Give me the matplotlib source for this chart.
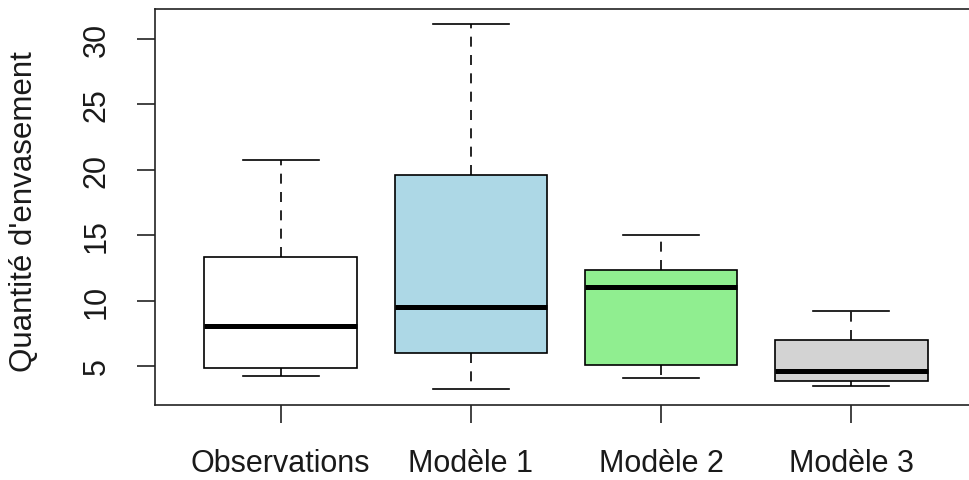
import matplotlib.pyplot as plt

plt.rcParams['font.family'] = ['Liberation Sans', 'DejaVu Sans']

# valeurs
groupes = ["Observations", "Modèle 1", "Modèle 2", "Modèle 3"]
moustache_bas = [4.26, 3.24, 4.10, 3.50]
q1 = [4.85, 5.97, 5.08, 3.83]
mediane = [8.08, 9.49, 11.02, 4.59]
q3 = [13.33, 19.60, 12.36, 7.01]
moustache_haut = [20.75, 31.15, 15.00, 9.18]
couleurs = ["white", "lightblue", "lightgreen", "lightgray"]

stats_box = []
for i in range(len(groupes)):
    stats_box.append({'label': groupes[i], 'whislo': moustache_bas[i], 'q1': q1[i],
                      'med': mediane[i], 'q3': q3[i], 'whishi': moustache_haut[i],
                      'fliers': []})

fig = plt.figure(figsize=(9.69, 4.81), dpi=100)
ax = fig.add_axes([155/969, 1-406/481, (977-155)/969, (406-10)/481])

bp = ax.bxp(stats_box, positions=[1, 2, 3, 4], widths=0.8, patch_artist=True,
            showfliers=False,
            boxprops=dict(edgecolor='black', linewidth=1.2),
            medianprops=dict(color='black', linewidth=3.6, solid_capstyle='butt'),
            whiskerprops=dict(color='black', linewidth=1.2, linestyle=(0, (6, 5))),
            capprops=dict(color='black', linewidth=1.2),
            capwidths=0.4)
for patch, c in zip(bp['boxes'], couleurs):
    patch.set_facecolor(c)

ax.set_xlim(0.34, 4.66)
ax.set_ylim(2.02, 32.3)
ax.set_yticks([5, 10, 15, 20, 25, 30])
ax.set_xticks([1, 2, 3, 4])
ax.set_xticklabels(groupes)
ax.tick_params(axis='both', length=13, width=1.2, labelsize=22, color='#222222')
ax.tick_params(axis='x', pad=18)
ax.tick_params(axis='y', pad=18)
for lab in ax.get_yticklabels():
    lab.set_rotation(90)
    lab.set_va('center')
for lab in ax.get_xticklabels() + ax.get_yticklabels():
    lab.set_color('#1a1a1a')
# titre de l'axe y
fig.text(24/969, 1-212/481, "Quantité d'envasement", rotation=90, fontsize=22.5,
         color='#1a1a1a', ha='center', va='center')
for s in ax.spines.values():
    s.set_linewidth(1.2)
    s.set_color('#222222')

fig.savefig("out.png", dpi=100)
